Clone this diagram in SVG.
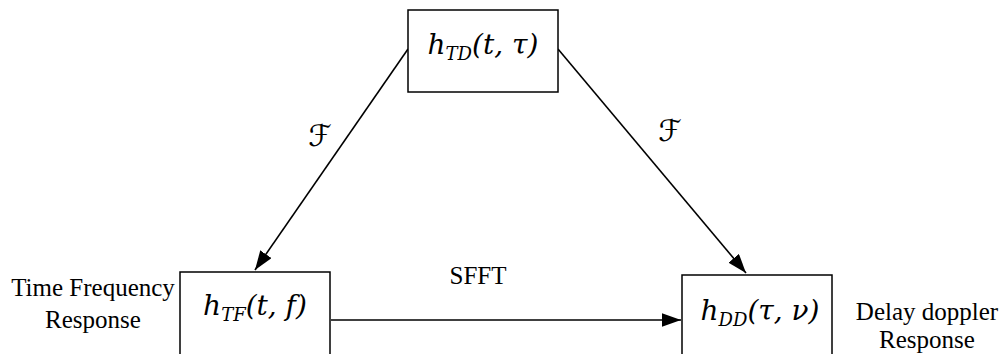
<svg xmlns="http://www.w3.org/2000/svg" width="1004" height="354" viewBox="0 0 1004 354">
<style>
.box{fill:#fff;stroke:#000;stroke-width:1.5}
.m{font-family:"DejaVu Serif","Liberation Serif",serif;font-style:italic;font-size:28px;fill:#000}
.sub{font-size:18px}
.f{font-family:"DejaVu Sans","Noto Sans",sans-serif;font-size:30px;fill:#000}
.t{font-family:"Liberation Serif","Times New Roman",serif;font-size:25px;fill:#000}
.c{stroke:#000;stroke-width:1.6;fill:none}
</style>
<defs>
<marker id="ah" viewBox="0 0 14 10" refX="14" refY="5" markerWidth="12" markerHeight="8.6" markerUnits="strokeWidth" orient="auto">
<path d="M0,0 L14,5 L0,10 z" fill="#000"/>
</marker>
</defs>
<g id="connectors">
<line class="c" x1="408" y1="49" x2="255" y2="270" marker-end="url(#ah)"/>
<line class="c" x1="558" y1="49" x2="746" y2="273" marker-end="url(#ah)"/>
<line class="c" x1="331" y1="320" x2="681" y2="320" marker-end="url(#ah)"/>
<text class="t" x="478" y="284" text-anchor="middle">SFFT</text>
<text class="f" x="320" y="146" text-anchor="middle">ℱ</text>
<text class="f" x="670" y="141" text-anchor="middle">ℱ</text>
</g>
<g id="node-td">
<rect class="box" x="408" y="10" width="150" height="82"/>
<text class="m" x="483" y="54" text-anchor="middle">h<tspan class="sub" dy="6">TD</tspan><tspan dy="-6">(t, τ)</tspan></text>
</g>
<g id="node-tf">
<rect class="box" x="180" y="272" width="150" height="90"/>
<text class="m" x="255" y="315" text-anchor="middle">h<tspan class="sub" dy="6">TF</tspan><tspan dy="-6">(t, f)</tspan></text>
<text class="t" x="93" y="296" text-anchor="middle">Time Frequency</text>
<text class="t" x="93" y="328" text-anchor="middle">Response</text>
</g>
<g id="node-dd">
<rect class="box" x="682" y="275" width="150" height="90"/>
<text class="m" x="760" y="320" text-anchor="middle">h<tspan class="sub" dy="6">DD</tspan><tspan dy="-6">(τ, ν)</tspan></text>
<text class="t" x="927" y="320" text-anchor="middle">Delay doppler</text>
<text class="t" x="927" y="348" text-anchor="middle">Response</text>
</g>
</svg>
